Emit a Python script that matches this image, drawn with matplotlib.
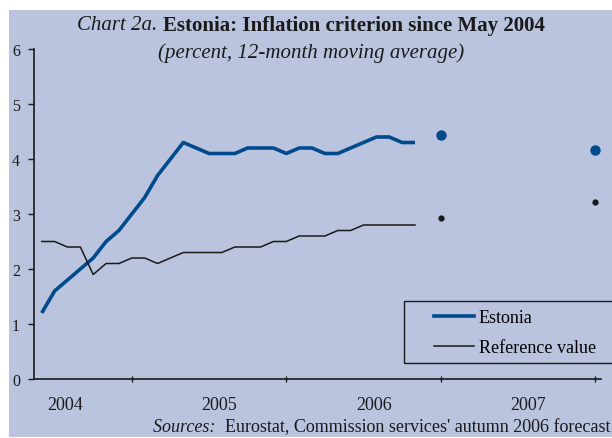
import matplotlib
matplotlib.use("Agg")
import matplotlib.pyplot as plt
from matplotlib.patches import Rectangle
from matplotlib.lines import Line2D

plt.rcParams['font.family'] = ['Liberation Serif', 'DejaVu Serif']

# x = months since May 2004
months = list(range(30))
estonia = [1.2, 1.6, 1.8, 2.0, 2.2, 2.5, 2.7, 3.0, 3.3, 3.7, 4.0, 4.3, 4.2, 4.1, 4.1,
           4.1, 4.2, 4.2, 4.2, 4.1, 4.2, 4.2, 4.1, 4.1, 4.2, 4.3, 4.4, 4.4, 4.3, 4.3]
reference = [2.5, 2.5, 2.4, 2.4, 1.9, 2.1, 2.1, 2.2, 2.2, 2.1, 2.2, 2.3, 2.3, 2.3, 2.3,
             2.4, 2.4, 2.4, 2.5, 2.5, 2.6, 2.6, 2.6, 2.7, 2.7, 2.8, 2.8, 2.8, 2.8, 2.8]
# forecasts (Dec 2006, Dec 2007)
forecast_months = [31, 43]
estonia_forecast = [4.43, 4.17]
reference_forecast = [2.93, 3.21]

year_ticks = [7, 19, 31, 43]
year_label_pos = [1.8, 13.8, 25.8, 37.8]
year_labels = ['2004', '2005', '2006', '2007']

bg = '#BAC4DE'
blue = '#004B8C'

fig = plt.figure(figsize=(6.12, 4.39), dpi=100, facecolor='white')
fig.patches.append(Rectangle((9 / 612, 1 / 439), 1, (439 - 12) / 439,
                             transform=fig.transFigure, facecolor=bg,
                             edgecolor='none', zorder=-10))

ax = fig.add_axes([34 / 612, (439 - 380) / 439, (601 - 34) / 612, 330 / 439])
ax.set_facecolor('none')

ax.plot(months, estonia, color=blue, lw=2.6, solid_capstyle='butt')
ax.plot(months, reference, color='#1a1a1a', lw=1.1)
ax.plot(forecast_months, estonia_forecast, 'o', color=blue, ms=7.5, mec='none')
ax.plot(forecast_months, reference_forecast, 'o', color='#1a1a1a', ms=4.5, mec='none')

ax.set_xlim(-0.6, 43.45)
ax.set_ylim(0, 6)
for s in ['top', 'right']:
    ax.spines[s].set_visible(False)
for s in ['left', 'bottom']:
    ax.spines[s].set_linewidth(1.2)
    ax.spines[s].set_color('#1a1a1a')

ax.set_yticks(range(7))
ax.tick_params(axis='y', direction='out', length=4, width=1, pad=6,
               labelsize=11.5, colors='#1a1a1a')
ax.set_xticks(year_ticks)
ax.set_xticklabels([])
ax.tick_params(axis='x', which='major', direction='inout', length=5, width=1,
               colors='#1a1a1a')
ax.set_xticks(year_label_pos, minor=True)
ax.set_xticklabels(year_labels, minor=True)
ax.tick_params(axis='x', which='minor', length=0, pad=12, labelsize=13,
               colors='#1a1a1a')

# legend
fig.patches.append(Rectangle((404 / 612, (439 - 364) / 439), 0.5, 62 / 439,
                             transform=fig.transFigure, facecolor='none',
                             edgecolor='#1a1a1a', lw=1, zorder=3))
handles = [Line2D([], [], color=blue, lw=2.6),
           Line2D([], [], color='#1a1a1a', lw=1.1)]
fig.legend(handles, ['Estonia', 'Reference value'], loc='upper left',
           bbox_to_anchor=(420 / 612, (439 - 296) / 439), frameon=False,
           fontsize=13, handlelength=2.2, handletextpad=0.25,
           labelspacing=0.7, borderpad=0.3)


def mixed_text(pieces, x, y, ha='center', size=15):
    # pieces: list of (text, style, weight); draw them one after another
    r = fig.canvas.get_renderer()
    objs = []
    for txt, style, weight in pieces:
        objs.append(fig.text(0, y, txt, fontsize=size, style=style,
                             fontweight=weight, va='center', color='#1a1a1a'))
    widths = [o.get_window_extent(r).width / fig.bbox.width for o in objs]
    total = sum(widths)
    start = x - total / 2 if ha == 'center' else x - total
    for o, w in zip(objs, widths):
        o.set_x(start)
        start += w


mixed_text([('Chart 2a. ', 'italic', 'normal'),
            ('Estonia: Inflation criterion since May 2004', 'normal', 'bold')],
           0.508, 1 - 26 / 439)
fig.text(0.508, 1 - 53 / 439, '(percent, 12-month moving average)', fontsize=15,
         style='italic', ha='center', va='center', color='#1a1a1a')
mixed_text([('Sources:  ', 'italic', 'normal'),
            ("Eurostat, Commission services' autumn 2006 forecast", 'normal', 'normal')],
           0.997, 1 - 428 / 439, ha='right', size=13)

fig.savefig('out.png', dpi=100, facecolor='white')
